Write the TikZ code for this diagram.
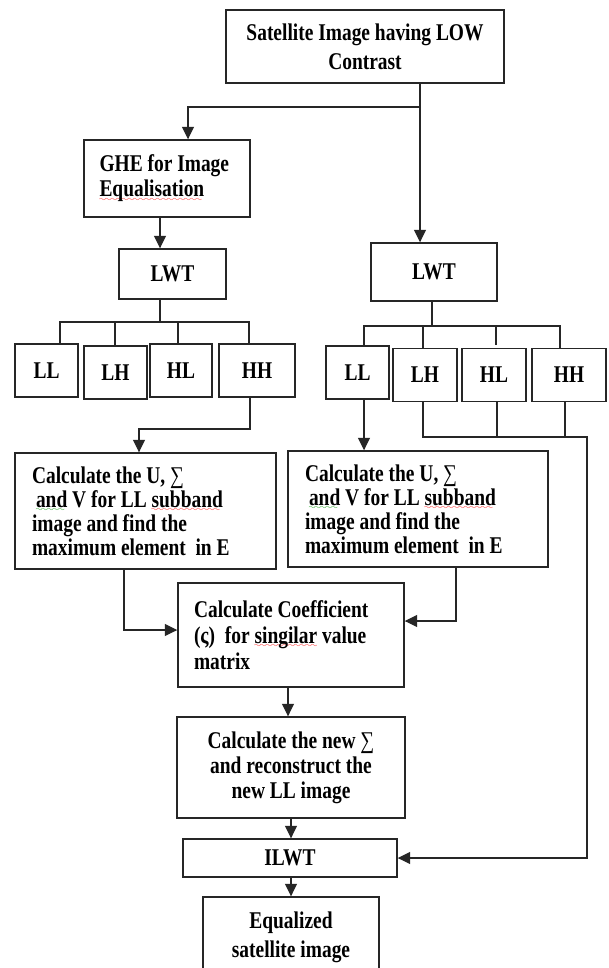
\documentclass[tikz,border=0pt]{standalone}
\usepackage{fontspec}
\setmainfont{Liberation Serif}[FakeStretch=0.81]
\usetikzlibrary{arrows.meta}
\font\spellfont=lasy8
\newsavebox\spellbox
\newcommand\spellwave[2]{\sbox\spellbox{#2}\rlap{\lower4.5pt\hbox to\wd\spellbox{\color{#1}\leaders\hbox{\spellfont\char58}\hfil}}\usebox\spellbox}
\begin{document}
\begin{tikzpicture}[x=1pt,y=-1pt,line join=miter,
  flowbox/.style={draw=black!85,line width=1.4pt,inner sep=0pt,
    font=\fontsize{24}{25}\selectfont\bfseries},
  bandbox/.style={flowbox,minimum height=53pt},
  wire/.style={black!85,line width=1.3pt},
  arr/.style={wire,-{Triangle[length=12.5pt,width=12pt]}}]
  \path[use as bounding box,fill=white] (0,0) rectangle (608,968);
  % main boxes
  \node[flowbox,minimum width=278pt,minimum height=73pt,align=center] (src) at (365,46.5)
    {Satellite Image having LOW\\[4pt]Contrast};
  \node[flowbox,text width=135pt,inner xsep=15.5pt,minimum height=77pt,align=flush left] (ghe) at (167,178.5)
    {\mbox{GHE for Image}\\\mbox{\spellwave{red}{Equalisation}}};
  \node[flowbox,minimum width=107pt,minimum height=50pt] (lwtL) at (172.5,274) {LWT};
  \node[flowbox,minimum width=126pt,minimum height=58pt] (lwtR) at (434,272) {LWT};
  % subbands
  \node[bandbox,minimum width=63pt] (llL) at (46.5,370.5) {LL};
  \node[bandbox,minimum width=63pt] (lhL) at (115.5,372.5) {LH};
  \node[bandbox,minimum width=62pt] (hlL) at (181,370.5) {HL};
  \node[bandbox,minimum width=76pt] (hhL) at (257,370.5) {HH};
  \node[bandbox,minimum width=63pt] (llR) at (357.5,372.5) {LL};
  \node[bandbox,minimum width=64pt] (lhR) at (425,375) {LH};
  \node[bandbox,minimum width=64pt] (hlR) at (494,375) {HL};
  \node[bandbox,minimum width=74pt] (hhR) at (569,375) {HH};
  % svd boxes
  \node[flowbox,text width=227pt,inner xsep=17pt,minimum height=116pt,align=flush left,
    font=\fontsize{24}{24}\selectfont\bfseries] (calcL) at (145.5,511)
    {\mbox{Calculate the U, \textmd{∑}}\\\mbox{\hspace*{4pt}\spellwave{green!60!black}{and} V for LL \spellwave{red}{subband}}\\\mbox{image and find the}\\\mbox{maximum element\ \ in E}};
  \node[flowbox,text width=226pt,inner xsep=17pt,minimum height=116pt,align=flush left,
    font=\fontsize{24}{24}\selectfont\bfseries] (calcR) at (418,509)
    {\mbox{Calculate the U, \textmd{∑}}\\\mbox{\hspace*{4pt}\spellwave{green!60!black}{and} V for LL \spellwave{red}{subband}}\\\mbox{image and find the}\\\mbox{maximum element\ \ in E}};
  \node[flowbox,text width=194pt,inner xsep=16pt,minimum height=104pt,align=flush left,
    font=\fontsize{24}{26}\selectfont\bfseries] (coef) at (291,635)
    {\mbox{Calculate Coefficient}\\\mbox{(ς)\ \ for \spellwave{red}{singilar} value}\\\mbox{matrix}};
  \node[flowbox,minimum width=228pt,minimum height=101pt,align=center] (newS) at (291,767.5)
    {Calculate the new \textmd{∑}\\and reconstruct the\\new LL image};
  \node[flowbox,minimum width=214pt,minimum height=38pt] (ilwt) at (290,858) {ILWT};
  \node[flowbox,minimum width=176pt,minimum height=80pt,align=center] (equal) at (291,937)
    {Equalized\\[4pt]satellite image};
  % split of the input
  \coordinate (fork) at (420,107);
  \draw[arr] (src.south -| fork) -- (lwtR.north -| fork);
  \draw[arr] (fork) -| ([xshift=21pt]ghe.north);
  \draw[arr] ([xshift=-7pt]ghe.south) -- ([xshift=-7pt]ghe.south |- lwtL.north);
  % left decomposition
  \coordinate (busL) at (160,322);
  \draw[wire] (lwtL.south -| busL) -- (busL);
  \draw[wire] (busL) -| ([xshift=13.5pt]llL.north);
  \draw[wire] (busL) -| ([xshift=-8pt]hhL.north);
  \draw[wire] ([xshift=-0.5pt]lhL.north) -- ([xshift=-0.5pt]lhL.north |- busL);
  \draw[wire] ([xshift=-3pt]hlL.north) -- ([xshift=-3pt]hlL.north |- busL);
  % right decomposition
  \coordinate (busR) at (432,326);
  \draw[wire] (lwtR.south -| busR) -- (busR);
  \draw[wire] (busR) -| ([xshift=6.5pt]llR.north);
  \draw[wire] (busR) -| ([xshift=-9pt]hhR.north);
  \draw[wire] ([xshift=-2pt]lhR.north) -- ([xshift=-2pt]lhR.north |- busR);
  \draw[wire] ([xshift=2pt,yshift=3pt]hlR.north) -- ([xshift=2pt]hlR.north |- busR);
  % subbands onwards
  \coordinate (dropL) at (139,429);
  \draw[arr] ([xshift=-7pt]hhL.south) |- (dropL) -- (dropL |- calcL.north);
  \draw[arr] ([xshift=6.5pt]llR.south) -- ([xshift=6.5pt]llR.south |- calcR.north);
  \coordinate (sumR) at (587,437);
  \draw[arr] ([xshift=-2pt]lhR.south) |- (sumR) |- (ilwt.east);
  \draw[wire] ([xshift=3pt]hlR.south) -- ([xshift=3pt]hlR.south |- sumR);
  \draw[wire] ([xshift=-4pt]hhR.south) -- ([xshift=-4pt]hhR.south |- sumR);
  % lower chain
  \draw[arr] ([xshift=-21.5pt]calcL.south) |- ([yshift=5pt]coef.west);
  \draw[arr] ([xshift=38pt]calcR.south) |- ([yshift=14pt]coef.east);
  \draw[arr] ([xshift=-3pt]coef.south) -- ([xshift=-3pt]coef.south |- newS.north);
  \draw[arr] (newS.south) -- (newS.south |- ilwt.north);
  \draw[arr] (ilwt.south -| equal.north) -- (equal.north);
\end{tikzpicture}
\end{document}
